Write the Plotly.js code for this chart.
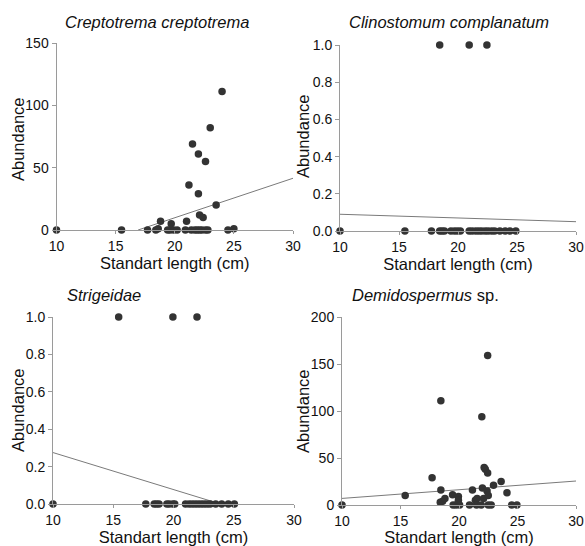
<!DOCTYPE html>
<html>
<head>
<meta charset="utf-8">
<script src="https://cdn.plot.ly/plotly-3.0.1.min.js"></script>
<style>html,body{margin:0;padding:0;background:#fff;}#chart{width:585px;height:546px;}</style>
</head>
<body>
<div id="chart"></div>
<script>
// ---- data ----
var creptoX = [10, 15.5, 17.7, 18.4, 18.6, 18.8, 19.4, 19.6, 19.7, 19.9, 20.2, 20.9, 21.0, 21.2, 21.5, 21.4, 21.7, 22.0, 21.9, 22.0, 22.1, 22.1, 22.4, 22.3, 22.6, 22.6, 22.8, 23.0, 23.5, 24.0, 24.5, 25.0];
var creptoY = [0, 0, 0, 0, 1, 7, 0, 0, 5, 0, 0, 0, 7, 36, 69, 0, 0, 61, 0, 29, 12, 0, 10, 0, 55, 0, 0, 82, 20, 111, 0, 1];

var clinoX = [10, 15.5, 17.75, 18.45, 18.45, 18.65, 18.85, 19.4, 19.7, 19.95, 20.2, 20.95, 20.95, 21.2, 21.5, 21.75, 22.0, 22.3, 22.45, 22.55, 22.85, 23.1, 23.55, 24.0, 24.4, 24.9];
var clinoY = [0, 0, 0, 1, 0, 0, 0, 0, 0, 0, 0, 1, 0, 0, 0, 0, 0, 0, 1, 0, 0, 0, 0, 0, 0, 0];

var strigX = [10, 15.45, 17.7, 18.4, 18.6, 18.8, 19.45, 19.65, 19.95, 19.95, 20.1, 21.0, 21.3, 21.55, 21.8, 21.95, 22.05, 22.3, 22.55, 22.8, 23.05, 23.5, 24.0, 24.55, 25.05];
var strigY = [0, 1, 0, 0, 0, 0, 0, 0, 1, 0, 0, 0, 0, 0, 0, 1, 0, 0, 0, 0, 0, 0, 0, 0, 0];

var demiX = [10, 15.4, 17.7, 18.45, 18.45, 18.4, 18.6, 18.8, 19.45, 19.5, 19.75, 19.95, 19.95, 20.05, 20.9, 21.15, 21.4, 21.55, 21.5, 21.9, 21.95, 22.0, 22.1, 22.15, 22.25, 22.4, 22.45, 22.45, 22.5, 22.5, 22.75, 22.95, 23.6, 24.1, 24.5, 24.95];
var demiY = [0, 10, 29, 111, 16, 3, 4, 7, 11, 0, 0, 9, 5, 0, 0, 16, 5, 7, 0, 0, 94, 18, 7, 40, 38, 15, 34, 159, 10, 0, 0, 21, 25, 13, 0, 0];

// fitted regression lines (end points)
var fitCreptoX = [16.9, 30];  var fitCreptoY = [0, 41.5];
var fitClinoX  = [10, 30];    var fitClinoY  = [0.09, 0.05];
var fitStrigX  = [10, 23.9];  var fitStrigY  = [0.275, 0];
var fitDemiX   = [10, 30];    var fitDemiY   = [7, 25.5];

var panelTitles = ['<i>Creptotrema creptotrema</i>', '<i>Clinostomum complanatum</i>', '<i>Strigeidae</i>', '<i>Demidospermus</i> sp.'];
var xTitle = 'Standart length (cm)';
var yTitle = 'Abundance';
var xTickVals = [10, 15, 20, 25, 30];

// ---- styling ----
var FONT = 'Arial, "Liberation Sans", sans-serif';
var W = 585, H = 546;
var markerStyle = {color: '#333333', size: 7.5};
var lineStyle = {color: '#7a7a7a', width: 1};
var AXC = '#9a9a9a';

function pts(x, y, xa, ya) {
  return {x: x, y: y, xaxis: xa, yaxis: ya, type: 'scatter', mode: 'markers',
          marker: markerStyle, cliponaxis: false, hoverinfo: 'x+y'};
}
function fit(x, y, xa, ya) {
  return {x: x, y: y, xaxis: xa, yaxis: ya, type: 'scatter', mode: 'lines',
          line: lineStyle, hoverinfo: 'skip'};
}

var data = [
  fit(fitCreptoX, fitCreptoY, 'x', 'y'),   pts(creptoX, creptoY, 'x', 'y'),
  fit(fitClinoX, fitClinoY, 'x2', 'y2'),   pts(clinoX, clinoY, 'x2', 'y2'),
  fit(fitStrigX, fitStrigY, 'x3', 'y3'),   pts(strigX, strigY, 'x3', 'y3'),
  fit(fitDemiX, fitDemiY, 'x4', 'y4'),     pts(demiX, demiY, 'x4', 'y4')
];

// panel boxes in pixels: [left, right, top, bottom]
var boxes = [[56.5, 293, 43, 230], [340, 576, 45, 231], [53, 294, 317, 504], [342, 576, 317, 505]];
var yRanges = [[0, 150], [0, 1], [0, 1], [0, 200]];
var yTicks = [[0, 50, 100, 150], [0, 0.2, 0.4, 0.6, 0.8, 1.0], [0, 0.2, 0.4, 0.6, 0.8, 1.0], [0, 50, 100, 150, 200]];
var yFormats = ['', '.1f', '.1f', ''];

var layout = {
  width: W, height: H,
  margin: {l: 0, r: 0, t: 0, b: 0},
  paper_bgcolor: '#ffffff', plot_bgcolor: 'rgba(0,0,0,0)',
  showlegend: false,
  font: {family: FONT, color: '#111111', size: 14},
  annotations: []
};

var titlePos = [[157, 22], [449, 22], [104, 295], [425, 295]];
var yTitlePos = [[18, 139], [303, 136], [18, 410], [303, 411]];

for (var i = 0; i < 4; i++) {
  var b = boxes[i];
  var sx = i === 0 ? '' : String(i + 1);
  layout['xaxis' + sx] = {
    domain: [b[0] / W, b[1] / W],
    anchor: 'y' + sx,
    range: [10, 30],
    tickvals: xTickVals,
    showgrid: false, zeroline: false,
    showline: true, linecolor: AXC, linewidth: 1,
    ticks: 'outside', ticklen: 3, tickcolor: AXC, tickwidth: 1,
    tickfont: {family: FONT, size: 14, color: '#111111'},
    ticklabeloverflow: 'allow',
    automargin: false,
    fixedrange: true,
    title: {text: xTitle, font: {family: FONT, size: 16.5, color: '#111111'}, standoff: 2}
  };
  // overlay axis giving the tick marks their upper half (ticks cross the line)
  layout['xaxis' + (i + 5)] = {
    domain: [b[0] / W, b[1] / W],
    anchor: 'y' + sx,
    overlaying: 'x' + sx,
    range: [10, 30],
    tickvals: xTickVals,
    showticklabels: false,
    showgrid: false, zeroline: false, showline: false,
    ticks: 'inside', ticklen: 3, tickcolor: AXC, tickwidth: 1,
    automargin: false, fixedrange: true
  };
  layout['yaxis' + sx] = {
    domain: [1 - b[3] / H, 1 - b[2] / H],
    anchor: 'x' + sx,
    range: yRanges[i],
    tickvals: yTicks[i],
    tickformat: yFormats[i],
    showgrid: false, zeroline: false,
    showline: true, linecolor: AXC, linewidth: 1,
    ticks: 'outside', ticklen: 4, tickcolor: AXC, tickwidth: 1,
    tickfont: {family: FONT, size: 14, color: '#111111'},
    automargin: false,
    fixedrange: true
  };
  layout.annotations.push({
    text: panelTitles[i], xref: 'paper', yref: 'paper',
    x: titlePos[i][0] / W, y: 1 - titlePos[i][1] / H,
    xanchor: 'center', yanchor: 'middle', showarrow: false,
    font: {family: FONT, size: 16.5, color: '#111111'}
  });
  layout.annotations.push({
    text: yTitle, xref: 'paper', yref: 'paper',
    x: yTitlePos[i][0] / W, y: 1 - yTitlePos[i][1] / H,
    xanchor: 'center', yanchor: 'middle', showarrow: false, textangle: -90,
    font: {family: FONT, size: 16.5, color: '#111111'}
  });
}

Plotly.newPlot('chart', data, layout, {displayModeBar: false, staticPlot: true});
</script>
</body>
</html>
